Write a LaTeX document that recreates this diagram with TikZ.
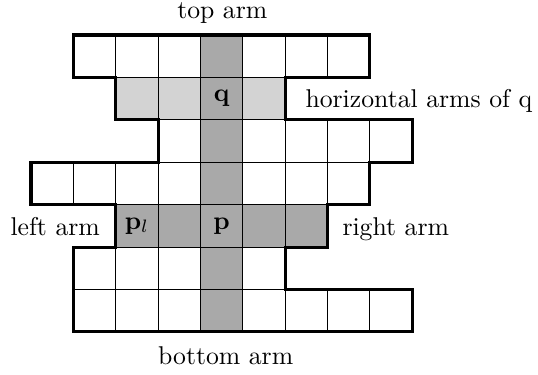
\documentclass[tikz,border=0pt]{standalone}
\definecolor{darkcell}{HTML}{A9A9A9}
\definecolor{lightcell}{HTML}{D3D3D3}
\tikzset{
  gridline/.style={draw=black, line width=0.35pt},
  outline/.style={draw=black, line width=1.2pt},
  lbl/.style={inner sep=0pt, anchor=base},
}
\begin{document}
\begin{tikzpicture}[x=0.389pt,y=-0.389pt]
\useasboundingbox (0,0) rectangle (538,374);
\begin{scope}[shift={(12.06pt,-13.62pt)}, x=16.48pt, y=-16.50pt]
  % fills
  \foreach \r in {0,...,6} \fill[darkcell] (4,\r) rectangle (5,\r+1);
  \fill[darkcell] (2,4) rectangle (7,5);
  \foreach \c in {2,3,5} \fill[lightcell] (\c,1) rectangle (\c+1,2);
  % grid cells
  \foreach \r/\a/\b in {0/1/7, 1/2/5, 2/3/8, 3/0/7, 4/2/6, 5/1/5, 6/1/8}{
    \foreach \c in {\a,...,\b} \draw[gridline] (\c,\r) rectangle (\c+1,\r+1);
  }
  % outline
  \draw[outline] (1,0) -- (8,0) -- (8,1) -- (6,1) -- (6,2) -- (9,2) -- (9,3)
    -- (8,3) -- (8,4) -- (7,4) -- (7,5) -- (6,5) -- (6,6) -- (9,6) -- (9,7)
    -- (1,7) -- (1,5) -- (2,5) -- (2,4) -- (0,4) -- (0,3) -- (3,3) -- (3,2)
    -- (2,2) -- (2,1) -- (1,1) -- cycle;
  % cell labels
  \node (q) at (4.5,1.5) {$\mathbf{q}$};
  \node (p) at (4.5,4.5) {$\mathbf{p}$};
  \node (pl) at (2.5,4.5) {$\mathbf{p}_l$};
\end{scope}
% outer labels
\node[lbl] (top) at (222.3,18) {top arm};
\node[lbl] (bottom) at (225.7,364) {bottom arm};
\node[lbl, anchor=base west] (horiz) at (305,107) {horizontal arms of q};
\node[lbl, anchor=base west] (left) at (10,235) {left arm};
\node[lbl, anchor=base west] (right) at (342,235) {right arm};
\end{tikzpicture}
\end{document}
